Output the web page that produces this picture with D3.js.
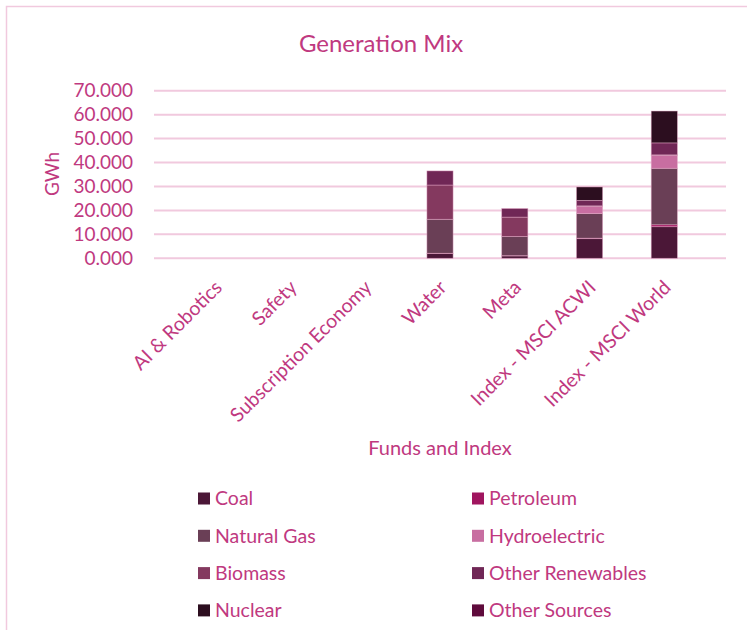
<!DOCTYPE html>
<html>
<head>
<meta charset="utf-8">
<script src="https://cdn.jsdelivr.net/npm/d3@7"></script>
<style>
  body { margin: 0; background: #fff; }
  svg { display: block; font-family: Lato, "Open Sans", sans-serif; }
</style>
</head>
<body>
<div id="chart"></div>
<script>
const categories = ["AI & Robotics", "Safety", "Subscription Economy", "Water", "Meta", "Index - MSCI ACWI", "Index - MSCI World"]
const seriesNames = ["Coal", "Petroleum", "Natural Gas", "Hydroelectric", "Biomass", "Other Renewables", "Nuclear", "Other Sources"]
const coal = [0, 0, 0, 2.0, 1.0, 8.2, 13.2]
const petroleum = [0, 0, 0, 0.1, 0.1, 0.2, 0.8]
const naturalGas = [0, 0, 0, 14.2, 8.0, 10.3, 23.6]
const hydroelectric = [0, 0, 0, 0, 0, 3.0, 5.4]
const biomass = [0, 0, 0, 14.3, 8.1, 0.2, 0.2]
const otherRenewables = [0, 0, 0, 5.9, 3.6, 2.3, 5.0]
const nuclear = [0, 0, 0, 0, 0, 5.6, 13.3]
const otherSources = [0, 0, 0, 0, 0, 0, 0]
const yTicks = [0, 10, 20, 30, 40, 50, 60, 70]

const colors = ["#4b1737", "#a0155f", "#6a3f56", "#c86ea1", "#84395f", "#702756", "#2c0e1f", "#5f0b3c"]
const textColor = "#c0397f"
const gridColor = "#f1c9de"

const width = 747, height = 630
const seriesValues = [coal, petroleum, naturalGas, hydroelectric, biomass, otherRenewables, nuclear, otherSources]

const rows = categories.map((c, i) => {
    const r = { category: c }
    seriesNames.forEach((s, j) => { r[s] = seriesValues[j][i] })
    return r
})

const svg = d3.select("#chart").append("svg")
    .attr("width", width)
    .attr("height", height)

// chart frame
svg.append("rect")
    .attr("x", 6.5).attr("y", 6.5)
    .attr("width", 760).attr("height", 700)
    .attr("fill", "none")
    .attr("stroke", gridColor)
    .attr("stroke-width", 1.5)

const x = d3.scaleBand().domain(categories).range([154, 726]).padding(0.65)
const y = d3.scaleLinear().domain([0, 70]).range([258.3, 90.7])

// gridlines
svg.append("g")
    .selectAll("line")
    .data(yTicks)
    .enter()
    .append("line")
        .attr("x1", 154).attr("x2", 726)
        .attr("y1", d => y(d)).attr("y2", d => y(d))
        .attr("stroke", gridColor)
        .attr("stroke-width", 2)

// y axis labels
const yAxis = svg.append("g")
    .attr("transform", "translate(133,0)")
    .call(d3.axisLeft(y).tickValues(yTicks).tickFormat(d3.format(".3f")).tickSize(0).tickPadding(0))
yAxis.select(".domain").remove()
yAxis.selectAll("text")
    .attr("fill", textColor)
    .style("font-size", "19px")
    .style("font-family", "Lato, sans-serif")

// stacked bars
const stack = d3.stack().keys(seriesNames)
const layers = stack(rows)

svg.append("g")
    .selectAll("g")
    .data(layers)
    .enter()
    .append("g")
        .attr("fill", (d, i) => colors[i])
    .selectAll("rect")
    .data(d => d.filter(p => p[1] - p[0] > 0))
    .enter()
    .append("rect")
        .attr("x", d => x(d.data.category))
        .attr("width", x.bandwidth())
        .attr("y", d => y(d[1]))
        .attr("height", d => y(d[0]) - y(d[1]))
        .attr("stroke", "#e6a9c8")
        .attr("stroke-opacity", 0.6)
        .attr("stroke-width", 0.75)

// x axis labels
const xAxis = svg.append("g")
    .attr("transform", "translate(-2,279)")
    .call(d3.axisBottom(x).tickSize(0).tickPadding(0))
xAxis.select(".domain").remove()
xAxis.selectAll("text")
    .attr("fill", textColor)
    .style("font-size", "19.5px")
    .style("font-family", "Lato, sans-serif")
    .attr("text-anchor", "end")
    .attr("dy", "0.7em")
    .attr("y", 0)
    .attr("x", 0)
    .attr("transform", "rotate(-45)")

// title
svg.append("text")
    .attr("x", 381).attr("y", 52)
    .attr("text-anchor", "middle")
    .attr("fill", textColor)
    .style("font-size", "24px")
    .text("Generation Mix")

// axis titles
svg.append("text")
    .attr("transform", "translate(59,174) rotate(-90)")
    .attr("text-anchor", "middle")
    .attr("fill", textColor)
    .style("font-size", "19px")
    .text("GWh")

svg.append("text")
    .attr("x", 440).attr("y", 455)
    .attr("text-anchor", "middle")
    .attr("fill", textColor)
    .style("font-size", "20px")
    .text("Funds and Index")

// legend
const legend = svg.append("g")
    .selectAll("g")
    .data(seriesNames)
    .enter()
    .append("g")
        .attr("transform", (d, i) => "translate(" + (i % 2 === 0 ? 198 : 472) + "," + (498.5 + Math.floor(i / 2) * 37.3) + ")")

legend.append("rect")
    .attr("x", 0).attr("y", -6)
    .attr("width", 12).attr("height", 12)
    .attr("fill", (d, i) => colors[i])

legend.append("text")
    .attr("x", 17).attr("y", 0)
    .attr("dy", "0.35em")
    .attr("fill", textColor)
    .style("font-size", "19.5px")
    .text(d => d)
</script>
</body>
</html>
